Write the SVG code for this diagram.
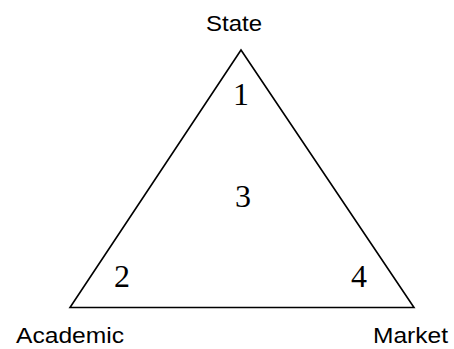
<svg xmlns="http://www.w3.org/2000/svg" width="454" height="349" viewBox="0 0 454 349">
<style>
.lbl{font-family:"Liberation Sans",Arial,sans-serif;font-size:22px;fill:#000}
.num{font-family:"Liberation Serif","Times New Roman",serif;font-size:32px;fill:#000;text-anchor:middle}
.edge{fill:none;stroke:#000;stroke-width:1.6;stroke-linejoin:miter}
</style>
<rect width="454" height="349" fill="#fff"/>
<g id="connectors">
<path class="edge" d="M241,50 L70,307.5 L414,307.5 Z"/>
</g>
<g id="state"><text class="lbl" x="206" y="31" textLength="56" lengthAdjust="spacingAndGlyphs">State</text></g>
<g id="academic"><text class="lbl" x="16" y="342.5" textLength="108" lengthAdjust="spacingAndGlyphs">Academic</text></g>
<g id="market"><text class="lbl" x="373" y="342.5" textLength="75" lengthAdjust="spacingAndGlyphs">Market</text></g>
<g id="r1"><text class="num" x="241" y="105">1</text></g>
<g id="r2"><text class="num" x="122" y="287">2</text></g>
<g id="r3"><text class="num" x="243" y="207">3</text></g>
<g id="r4"><text class="num" x="359" y="287">4</text></g>
</svg>
